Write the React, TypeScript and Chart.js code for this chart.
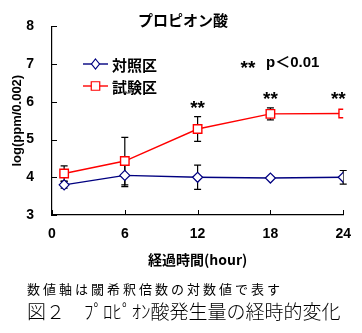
import React, { useEffect, useRef } from 'react';
import { Chart, registerables } from 'chart.js';

Chart.register(...registerables);

// ---- data ----
const hours = [1, 6, 12, 18, 24];
const controlValues = [3.8, 4.05, 4.0, 3.98, 4.0];
const controlErrors = [0.09, 0.3, 0.32, 0, 0.18];
const testValues = [4.1, 4.43, 5.28, 5.68, 5.69];
const testErrors = [0.2, 0.63, 0.33, 0.16, 0];
const seriesNames = ['対照区', '試験区'];
const xTickValues = [0, 6, 12, 18, 24];
const yTickValues = [3, 4, 5, 6, 7, 8];
const sigHours = [12, 18, 23.6];
const sigLevels = [5.97, 6.22, 6.22];
const chartTitle = 'プロピオン酸';
const xTitle = '経過時間(hour)';
const yTitle = 'log(ppm/0.002)';
const sigMark = '**';
const sigNote = 'p＜0.01';
const footnote = '数値軸は閾希釈倍数の対数値で表す';
const caption = '図２　ﾌﾟﾛﾋﾟｵﾝ酸発生量の経時的変化';

const NAVY = '#000080';
const RED = '#ff0000';
const LATIN = "'Liberation Sans', Arial, sans-serif";
const CJK = "'Noto Sans CJK JP', sans-serif";

const errorsByDataset = [controlErrors, testErrors];

function drawMarker(ctx: CanvasRenderingContext2D, style: string, x: number, y: number, r: number, color: string) {
  ctx.save();
  ctx.beginPath();
  if (style === 'rect') {
    const s = Math.SQRT1_2 * r;
    ctx.rect(x - s, y - s, 2 * s, 2 * s);
  } else {
    ctx.moveTo(x, y - r);
    ctx.lineTo(x + r * 0.8, y);
    ctx.lineTo(x, y + r);
    ctx.lineTo(x - r * 0.8, y);
    ctx.closePath();
  }
  ctx.fillStyle = '#fff';
  ctx.fill();
  ctx.strokeStyle = color;
  ctx.lineWidth = 1.2;
  ctx.stroke();
  ctx.restore();
}

const errorBarPlugin = {
  id: 'errorBars',
  beforeDatasetsDraw(chart: any) {
    const { ctx } = chart;
    const ys = chart.scales.y;
    const xs = chart.scales.x;
    ctx.save();
    ctx.strokeStyle = '#000';
    ctx.lineWidth = 1.2;
    chart.data.datasets.forEach((ds: any, di: number) => {
      const errs = errorsByDataset[di];
      ds.data.forEach((pt: any, i: number) => {
        const e = errs[i];
        if (!e) return;
        const px = xs.getPixelForValue(pt.x);
        const top = ys.getPixelForValue(pt.y + e);
        const bot = ys.getPixelForValue(pt.y - e);
        ctx.beginPath();
        ctx.moveTo(px, top);
        ctx.lineTo(px, bot);
        ctx.moveTo(px - 3.5, top);
        ctx.lineTo(px + 3.5, top);
        ctx.moveTo(px - 3.5, bot);
        ctx.lineTo(px + 3.5, bot);
        ctx.stroke();
      });
    });
    ctx.restore();
  },
};

const decorPlugin = {
  id: 'decor',
  afterDraw(chart: any) {
    const { ctx, chartArea } = chart;
    const xs = chart.scales.x;
    const ys = chart.scales.y;
    ctx.save();

    // inward tick marks
    ctx.strokeStyle = '#000';
    ctx.lineWidth = 1;
    ctx.beginPath();
    ys.ticks.forEach((t: any) => {
      const py = Math.round(ys.getPixelForValue(t.value)) + 0.5;
      ctx.moveTo(chartArea.left, py);
      ctx.lineTo(chartArea.left + 5, py);
    });
    xs.ticks.forEach((t: any) => {
      const px = Math.round(xs.getPixelForValue(t.value)) + 0.5;
      ctx.moveTo(px, chartArea.bottom);
      ctx.lineTo(px, chartArea.bottom - 5);
    });
    ctx.stroke();

    // title
    ctx.fillStyle = '#000';
    ctx.textAlign = 'center';
    ctx.textBaseline = 'middle';
    ctx.font = `bold 15px ${CJK}`;
    ctx.fillText(chartTitle, 183, 20);

    // legend
    const ds = chart.data.datasets;
    const legendY = [64, 86];
    ds.forEach((d: any, i: number) => {
      const y = legendY[i];
      ctx.strokeStyle = d.borderColor;
      ctx.lineWidth = 1.4;
      ctx.beginPath();
      ctx.moveTo(83, y);
      ctx.lineTo(108, y);
      ctx.stroke();
      drawMarker(ctx, d.pointStyle, 95.5, y, d.pointRadius, d.borderColor);
      ctx.fillStyle = '#000';
      ctx.textAlign = 'left';
      ctx.textBaseline = 'middle';
      ctx.font = `bold 15px ${CJK}`;
      ctx.fillText(seriesNames[i], 112, y + 1);
    });

    // significance marks
    const drawStars = (cx: number, cy: number) => {
      ctx.font = `bold 19px ${LATIN}`;
      ctx.textAlign = 'center';
      ctx.textBaseline = 'alphabetic';
      ctx.fillStyle = '#000';
      ctx.fillText(sigMark, cx, cy + 11);
    };
    sigHours.forEach((h, i) => {
      drawStars(xs.getPixelForValue(h), ys.getPixelForValue(sigLevels[i]));
    });
    drawStars(248, 63);
    ctx.font = `bold 15px ${LATIN}, ${CJK}`;
    ctx.textAlign = 'left';
    ctx.textBaseline = 'middle';
    ctx.fillText(sigNote, 266, 63);

    // footnotes
    ctx.textAlign = 'left';
    ctx.textBaseline = 'middle';
    ctx.font = `13px ${CJK}`;
    (ctx as any).letterSpacing = '3px';
    ctx.fillText(footnote, 27, 289);
    (ctx as any).letterSpacing = '0px';
    ctx.font = `300 19px ${CJK}`;
    ctx.fillText(caption, 27, 312);

    ctx.restore();
  },
};

export default function App() {
  const canvasRef = useRef<HTMLCanvasElement | null>(null);

  useEffect(() => {
    const canvas = canvasRef.current;
    if (!canvas) return;
    const chart = new Chart(canvas, {
      type: 'line',
      data: {
        datasets: [
          {
            label: seriesNames[0],
            data: hours.map((h, i) => ({ x: h, y: controlValues[i] })),
            borderColor: NAVY,
            backgroundColor: '#fff',
            borderWidth: 1.4,
            pointStyle: 'rectRot',
            pointRadius: 5,
            pointBorderWidth: 1.2,
            pointBackgroundColor: '#fff',
            pointBorderColor: NAVY,
            tension: 0,
          },
          {
            label: seriesNames[1],
            data: hours.map((h, i) => ({ x: h, y: testValues[i] })),
            borderColor: RED,
            backgroundColor: '#fff',
            borderWidth: 1.4,
            pointStyle: 'rect',
            pointRadius: 6,
            pointBorderWidth: 1.4,
            pointBackgroundColor: '#fff',
            pointBorderColor: RED,
            tension: 0,
          },
        ],
      },
      options: {
        animation: false,
        responsive: false,
        maintainAspectRatio: false,
        layout: { padding: { left: 0, top: 17, right: 18, bottom: 63 } },
        plugins: {
          legend: { display: false },
          tooltip: { enabled: false },
          title: { display: false },
        },
        scales: {
          x: {
            type: 'linear',
            min: xTickValues[0],
            max: xTickValues[xTickValues.length - 1],
            afterBuildTicks(scale: any) {
              scale.ticks = xTickValues.map((v) => ({ value: v }));
            },
            afterFit(scale: any) {
              scale.height = 55;
            },
            grid: { display: false, drawTicks: false },
            border: { display: true, color: '#000', width: 1.2 },
            ticks: {
              padding: 11,
              color: '#000',
              font: { family: LATIN, size: 14, weight: 'bold' },
              maxRotation: 0,
            },
            title: {
              display: true,
              text: xTitle,
              color: '#000',
              font: { family: CJK, size: 14, weight: 'bold' },
              padding: { top: 0, bottom: 2 },
            },
          },
          y: {
            type: 'linear',
            min: yTickValues[0],
            max: yTickValues[yTickValues.length - 1],
            afterBuildTicks(scale: any) {
              scale.ticks = yTickValues.map((v) => ({ value: v }));
            },
            afterFit(scale: any) {
              scale.width = 52;
            },
            grid: { display: false, drawTicks: false },
            border: { display: true, color: '#000', width: 1.2 },
            ticks: {
              padding: 18,
              color: '#000',
              font: { family: LATIN, size: 14, weight: 'bold' },
            },
            title: {
              display: true,
              text: yTitle,
              color: '#000',
              font: { family: LATIN, size: 13, weight: 'bold' },
              padding: { top: 10, bottom: 0 },
            },
          },
        },
      } as any,
      plugins: [errorBarPlugin, decorPlugin],
    });
    return () => chart.destroy();
  }, []);

  return (
    <div style={{ position: 'fixed', left: 0, top: 0, width: 362, height: 333, background: '#fff' }}>
      <canvas ref={canvasRef} width={362} height={333} style={{ width: 362, height: 333, display: 'block' }} />
    </div>
  );
}
